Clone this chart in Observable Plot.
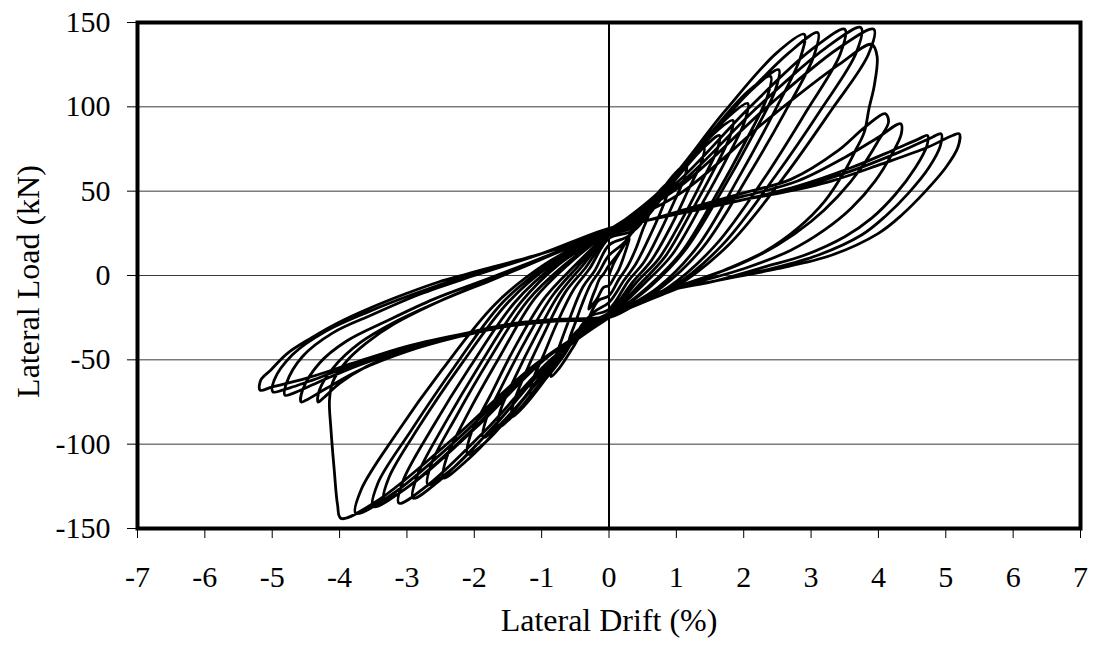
<!DOCTYPE html>
<html>
<head>
<meta charset="utf-8">
<script src="https://cdn.jsdelivr.net/npm/d3@7"></script>
<script src="https://cdn.jsdelivr.net/npm/@observablehq/plot@0.6"></script>
<style>
  html, body { margin: 0; padding: 0; background: #fff; }
</style>
</head>
<body>
<div id="chart"></div>
<script>
// Axis ticks and grid levels
const xTicks = [-7, -6, -5, -4, -3, -2, -1, 0, 1, 2, 3, 4, 5, 6, 7];
const yTicks = [-150, -100, -50, 0, 50, 100, 150];
const gridLoads = [-100, -50, 0, 50, 100];

// Hysteresis record: [lateral drift (%), lateral load (kN)], cycle by cycle
const cycle01 = [[0,0],[0.08,8],[0.18,15],[0.26,20],[0.3,22],[0.29,20],[0.25,15],[0.2,9],[0.14,3],[0.08,-1],[0,-6],[-0.08,-7],[-0.18,-14],[-0.26,-18],[-0.3,-20],[-0.29,-18],[-0.25,-13],[-0.2,-8],[-0.14,-2],[-0.08,1],[0,6]];
const cycle02 = [[0.16,14],[0.35,27],[0.52,37],[0.6,40],[0.59,36],[0.5,27],[0.4,16],[0.27,5],[0.15,-2],[0,-12],[-0.16,-15],[-0.35,-29],[-0.52,-39],[-0.6,-42],[-0.59,-38],[-0.5,-28],[-0.4,-17],[-0.27,-5],[-0.15,2],[0,12]];
const cycle03 = [[0.24,20],[0.53,37],[0.77,51],[0.9,55],[0.88,50],[0.76,37],[0.59,22],[0.4,7],[0.22,-3],[0,-16],[-0.23,-22],[-0.51,-41],[-0.74,-55],[-0.86,-60],[-0.84,-54],[-0.72,-40],[-0.57,-24],[-0.39,-7],[-0.21,3],[0,18]];
const cycle04 = [[0.31,24],[0.68,45],[0.99,61],[1.15,66],[1.13,59],[0.97,44],[0.76,26],[0.52,8],[0.29,-3],[0,-20],[-0.31,-25],[-0.68,-48],[-1.0,-64],[-1.16,-70],[-1.14,-63],[-0.97,-47],[-0.77,-28],[-0.52,-8],[-0.29,4],[0,22]];
const cycle05 = [[0.38,27],[0.83,52],[1.21,70],[1.41,76],[1.38,68],[1.18,51],[0.93,30],[0.63,9],[0.35,-4],[0,-22],[-0.39,-30],[-0.86,-57],[-1.25,-77],[-1.45,-84],[-1.42,-76],[-1.22,-56],[-0.96,-34],[-0.65,-10],[-0.36,4],[0,23]];
const cycle06 = [[0.44,30],[0.97,56],[1.41,76],[1.64,83],[1.61,75],[1.38,56],[1.08,33],[0.74,10],[0.41,-4],[0,-23],[-0.45,-32],[-0.97,-61],[-1.42,-83],[-1.65,-90],[-1.62,-81],[-1.39,-60],[-1.09,-36],[-0.74,-11],[-0.41,5],[0,24]];
const cycle07 = [[0.5,33],[1.09,63],[1.58,85],[1.84,92],[1.8,83],[1.55,62],[1.21,37],[0.83,11],[0.46,-5],[0,-24],[-0.5,-35],[-1.1,-65],[-1.61,-88],[-1.87,-96],[-1.83,-86],[-1.57,-64],[-1.23,-38],[-0.84,-12],[-0.47,5],[0,25]];
const cycle08 = [[0.56,37],[1.22,69],[1.77,94],[2.06,102],[2.02,92],[1.73,68],[1.36,41],[0.93,12],[0.52,-5],[0,-24],[-0.57,-38],[-1.24,-72],[-1.81,-98],[-2.1,-106],[-2.06,-95],[-1.76,-71],[-1.39,-42],[-0.95,-13],[-0.53,5],[0,25]];
const cycle09 = [[0.65,42],[1.42,80],[2.06,109],[2.4,118],[2.35,106],[2.02,79],[1.58,47],[1.08,14],[0.6,-6],[0,-25],[-0.66,-43],[-1.45,-82],[-2.12,-110],[-2.46,-120],[-2.41,-108],[-2.07,-80],[-1.62,-48],[-1.11,-14],[-0.62,6],[0,26]];
const cycle10 = [[0.68,44],[1.49,83],[2.17,112],[2.52,122],[2.47,110],[2.12,82],[1.66,49],[1.13,15],[0.63,-6],[0,-25],[-0.73,-45],[-1.59,-84],[-2.31,-114],[-2.69,-124],[-2.64,-112],[-2.26,-83],[-1.78,-50],[-1.21,-15],[-0.67,6],[0,26]];
const cycle11 = [[0.78,51],[1.71,97],[2.49,132],[2.9,143],[2.84,129],[2.44,96],[1.91,57],[1.31,17],[0.73,-7],[0,-25],[-0.79,-48],[-1.72,-90],[-2.5,-121],[-2.91,-132],[-2.85,-119],[-2.44,-88],[-1.92,-53],[-1.31,-16],[-0.73,7],[0,26]];
const cycle12 = [[0.84,52],[1.83,98],[2.67,132],[3.1,144],[3.04,130],[2.6,96],[2.05,58],[1.4,17],[0.78,-7],[0,-25],[-0.84,-49],[-1.84,-92],[-2.68,-124],[-3.12,-135],[-3.06,-122],[-2.62,-90],[-2.06,-54],[-1.4,-16],[-0.78,7],[0,27]];
const cycle13 = [[0.95,53],[2.07,99],[3.01,134],[3.5,146],[3.43,131],[2.94,98],[2.31,58],[1.58,18],[0.88,-7],[0,-25],[-0.9,-48],[-1.97,-90],[-2.87,-122],[-3.34,-133],[-3.27,-120],[-2.81,-89],[-2.2,-53],[-1.5,-16],[-0.84,7],[0,27]];
const cycle14 = [[1.01,53],[2.21,100],[3.22,135],[3.74,147],[3.67,132],[3.14,98],[2.47,59],[1.68,18],[0.94,-7],[0,-25],[-0.95,-49],[-2.07,-93],[-3.01,-126],[-3.5,-137],[-3.43,-123],[-2.94,-92],[-2.31,-55],[-1.58,-16],[-0.88,7],[0,27]];
const cycle15 = [[1.06,53],[2.32,99],[3.38,134],[3.93,146],[3.85,131],[3.3,98],[2.59,58],[1.77,18],[0.98,-7],[0,-25],[-1.02,-51],[-2.22,-96],[-3.23,-130],[-3.76,-141],[-3.68,-127],[-3.16,-94],[-2.48,-56],[-1.69,-17],[-0.94,7],[0,27]];
const cycle16 = [[1.07,49],[2.34,92],[3.41,125],[3.9,137],[3.98,130],[3.94,113],[3.86,99],[3.79,85],[3.67,75],[3.5,62],[3.2,44],[2.8,28],[2.3,14],[1.7,3],[1.0,-8],[0,-25],[-1.07,-52],[-2.35,-98],[-3.42,-133],[-3.98,-144],[-4.03,-136],[-4.08,-115],[-4.13,-90],[-4.15,-74],[-4.1,-63],[-3.9,-51],[-3.6,-40],[-3.2,-29],[-2.5,-15],[-1.6,0],[-0.8,13],[0,27]];
const cycle17 = [[0.6,33],[1.2,40],[2.0,49],[2.7,57],[3.4,74],[3.8,88],[4.1,96],[4.15,91],[4.0,80],[3.75,64],[3.4,47],[3.0,32],[2.5,18],[1.9,6],[1.2,-4],[0.6,-12],[0,-24],[-0.8,-26],[-1.5,-29],[-2.2,-35],[-3.0,-44],[-3.6,-54],[-4.0,-64],[-4.25,-73],[-4.32,-75],[-4.3,-68],[-4.1,-55],[-3.7,-40],[-3.2,-28],[-2.5,-15],[-1.7,-2],[-0.8,13],[0,27]];
const cycle18 = [[0.6,33],[1.2,39],[2.0,47],[2.8,56],[3.5,70],[4.0,82],[4.33,90],[4.34,84],[4.2,72],[3.95,56],[3.6,40],[3.2,27],[2.7,15],[2.0,4],[1.3,-4],[0.7,-11],[0,-24],[-0.8,-27],[-1.5,-30],[-2.2,-36],[-3.0,-45],[-3.7,-56],[-4.2,-67],[-4.5,-74],[-4.57,-75],[-4.55,-68],[-4.3,-52],[-3.9,-39],[-3.3,-27],[-2.6,-14],[-1.8,-2],[-0.9,12],[0,27]];
const cycle19 = [[0.6,33],[1.2,38],[2.0,45],[2.8,53],[3.6,64],[4.2,74],[4.6,81],[4.73,83],[4.72,77],[4.55,64],[4.25,48],[3.9,34],[3.5,23],[2.9,12],[2.3,5],[1.6,-3],[0.7,-11],[0,-25],[-0.8,-27],[-1.5,-30],[-2.2,-36],[-3.0,-44],[-3.7,-53],[-4.3,-63],[-4.7,-70],[-4.81,-71],[-4.79,-64],[-4.55,-48],[-4.1,-34],[-3.5,-23],[-2.8,-11],[-2.0,0],[-1.0,13],[0,28]];
const cycle20 = [[0.6,33],[1.2,38],[2.0,45],[2.8,52],[3.6,62],[4.3,73],[4.8,82],[4.93,84],[4.92,77],[4.75,64],[4.45,49],[4.1,35],[3.75,24],[3.1,12],[2.4,4],[1.6,-3],[0.7,-11],[0,-25],[-0.8,-27],[-1.5,-30],[-2.2,-35],[-3.0,-43],[-3.8,-53],[-4.4,-62],[-4.85,-68],[-4.99,-69],[-4.97,-62],[-4.7,-47],[-4.2,-33],[-3.6,-22],[-2.9,-11],[-2.1,0],[-1.0,13],[0,28]];
const cycle21 = [[0.6,33],[1.2,38],[2.0,45],[2.55,49],[3.3,56],[4.04,66],[4.73,76],[5.1,83],[5.2,84],[5.18,76],[5.0,64],[4.7,50],[4.35,36],[4.0,25],[3.3,12],[2.5,4],[1.6,-3],[0.7,-11],[0,-25],[-0.8,-27],[-1.3,-28.5],[-2.1,-34],[-3.0,-42],[-3.8,-52],[-4.5,-61],[-5.0,-66],[-5.18,-68],[-5.17,-62],[-5.02,-56],[-4.77,-46],[-4.42,-37],[-4.02,-28],[-3.53,-19],[-3.03,-11],[-2.54,-4],[-2.1,1],[-1.0,13],[0,26]];

const cycles = [cycle01, cycle02, cycle03, cycle04, cycle05, cycle06, cycle07, cycle08, cycle09, cycle10,
                cycle11, cycle12, cycle13, cycle14, cycle15, cycle16, cycle17, cycle18, cycle19, cycle20, cycle21];
const record = cycles.flat().map(([drift, load]) => ({drift, load}));

const fontFamily = "'Liberation Serif', 'Times New Roman', serif";

const chart = Plot.plot({
  width: 1094,
  height: 652,
  marginLeft: 137,
  marginRight: 14,
  marginTop: 22,
  marginBottom: 124,
  style: {fontFamily, fontSize: "30px", background: "white", color: "black", overflow: "visible"},
  x: {domain: [-7, 7]},
  y: {domain: [-150, 150]},
  marks: [
    Plot.ruleY(gridLoads, {stroke: "#3a3a3a", strokeWidth: 1}),
    Plot.ruleX([0], {stroke: "black", strokeWidth: 2}),
    Plot.line(record, {x: "drift", y: "load", curve: "catmull-rom", stroke: "black", strokeWidth: 2.8, strokeLinejoin: "round"}),
    Plot.frame({stroke: "black", strokeWidth: 4}),
    Plot.axisX({ticks: xTicks, tickSize: 10, tickPadding: 27, tickFormat: d => String(d), label: null, stroke: "black", strokeWidth: 1}),
    Plot.axisY({ticks: yTicks, tickSize: 10, tickPadding: 17, tickFormat: d => String(d), label: null, stroke: "black", strokeWidth: 1}),
    Plot.text(["Lateral Drift (%)"], {frameAnchor: "bottom", textAnchor: "middle", dy: 102, fontSize: 32, fill: "black"}),
    Plot.text(["Lateral Load (kN)"], {frameAnchor: "left", textAnchor: "middle", dx: -109, dy: 6, rotate: -90, fontSize: 32, fill: "black"})
  ]
});
document.getElementById("chart").appendChild(chart);
</script>
</body>
</html>
